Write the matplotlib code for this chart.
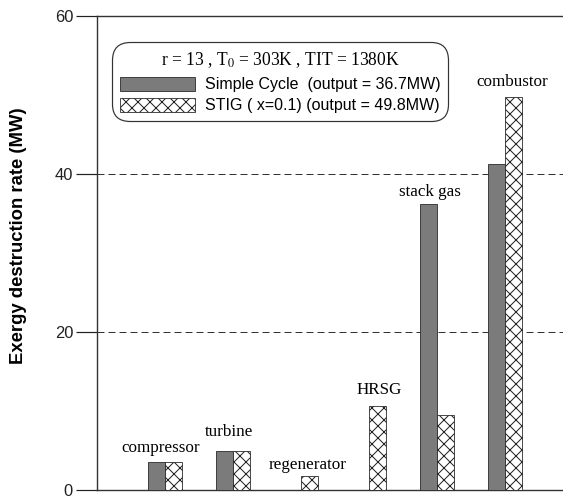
import numpy as np
import matplotlib
matplotlib.use("Agg")
import matplotlib.pyplot as plt

# exergy destruction per component (MW)
components = ["compressor", "turbine", "regenerator", "HRSG", "stack gas", "combustor"]
simple_cycle = [3.5, 4.9, 0.0, 0.0, 36.2, 41.3]
stig = [3.5, 4.9, 1.8, 10.6, 9.5, 49.7]
yticks = [0, 20, 40, 60]

# label placement (x offset from group centre, y in MW)
label_dx = [-0.07, -0.06, 0.10, 0.15, -0.11, 0.10]
label_y = [5.3, 7.3, 3.2, 12.7, 37.7, 51.6]

plt.rcParams["mathtext.fontset"] = "stix"
serif = "Liberation Serif"
sans = "Liberation Sans"

DPI = 72
fig = plt.figure(figsize=(563 / DPI, 498 / DPI), dpi=DPI)
ax = fig.add_axes([97 / 563, 8 / 498, 476 / 563, 474 / 498])

x = np.arange(1, len(components) + 1)
w = 0.25
b1 = ax.bar(x - w / 2, simple_cycle, w, color="#7b7b7b", edgecolor="#222222",
            linewidth=0.8, zorder=3, label="Simple Cycle  (output = 36.7MW)")
b2 = ax.bar(x + w / 2, stig, w, color="white", edgecolor="#222222", hatch="xx",
            linewidth=0.8, zorder=3, label="STIG ( x=0.1) (output = 49.8MW)")

for xi, name, dx, yy in zip(x, components, label_dx, label_y):
    ax.text(xi + dx, yy, name, ha="center", va="center", family=serif, fontsize=17)

for g in yticks[1:3]:
    ax.axhline(g, color="#333333", linewidth=1.0, linestyle=(0, (7, 4)), zorder=1)

ax.set_xlim(0, 7)
ax.set_ylim(0, 60)
ax.set_xticks([])
ax.set_yticks(yticks)
ax.tick_params(axis="y", direction="out", length=21, width=1.2, pad=3,
               labelsize=16.5, colors="#222222")
for lab in ax.get_yticklabels():
    lab.set_family(sans)
ax.spines["right"].set_visible(False)
for s in ["left", "top", "bottom"]:
    ax.spines[s].set_linewidth(1.4)
    ax.spines[s].set_color("#333333")

ax.set_ylabel("Exergy destruction rate (MW)", family=sans, fontweight="bold",
              fontsize=18.5)
ax.yaxis.set_label_coords(-0.148, 0.536)

leg = ax.legend(handles=[b1, b2], loc="upper left",
                bbox_to_anchor=(112 / 563, 1 - 42 / 498), bbox_transform=fig.transFigure,
                borderaxespad=0, title=r"r = 13 , T$_0$ = 303K , TIT = 1380K",
                title_fontproperties={"family": serif, "size": 17.5},
                prop={"family": sans, "size": 16}, handlelength=4.7, handleheight=1.0,
                handletextpad=0.6, labelspacing=0.32, borderpad=0.5,
                frameon=True, fancybox=True, framealpha=1, edgecolor="#333333")
leg.get_frame().set_linewidth(1.2)
leg.get_frame().set_boxstyle("round", pad=0.0, rounding_size=1.1)
leg._legend_box.sep = 7

fig.savefig("out.png", dpi=DPI)
